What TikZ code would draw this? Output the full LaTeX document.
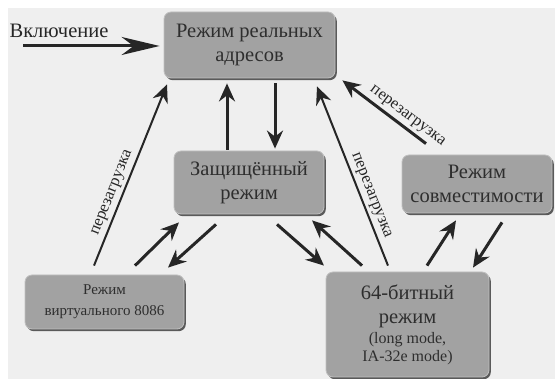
\documentclass[tikz,border=0pt]{standalone}
\usepackage{fontspec}
\setmainfont{Liberation Serif}
\usetikzlibrary{arrows.meta, shadows}
\definecolor{pagegray}{HTML}{EFEFEF}
\definecolor{boxgray}{HTML}{A2A2A2}
\definecolor{rimgray}{HTML}{C0C0C0}
\definecolor{shadegray}{HTML}{4A4A4A}
\definecolor{inkgray}{HTML}{262626}
\definecolor{textgray}{HTML}{2E2E2E}

\begin{document}
\begin{tikzpicture}[
    x=1pt, y=1pt,
    >={Stealth[length=18pt, width=16pt, inset=6pt]},
    mode/.style={draw=rimgray, fill=boxgray, rounded corners=7pt, line width=0.8pt,
                 align=center, text=textgray, inner sep=2pt,
                 drop shadow={shadow xshift=1.8pt, shadow yshift=-2.2pt, fill=shadegray, opacity=0.9}},
    big/.style={font=\rmfamily\fontsize{20.5}{24}\selectfont},
    small/.style={font=\rmfamily\fontsize{15}{21}\selectfont},
    arr/.style={->, line width=3pt, color=inkgray},
    rarr/.style={->, line width=2pt, color=inkgray},
    longarr/.style={-{Stealth[length=38pt, width=18pt, inset=12pt]}, line width=3pt, color=inkgray},
    tag/.style={font=\rmfamily\fontsize{16.5}{18}\selectfont, text=inkgray, sloped, above, inner sep=3pt},
]

% Page
\useasboundingbox (0,0) rectangle (555,379);
\fill[pagegray] (8,0) rectangle (555,371);

% Modes
\node[mode, big, minimum width=171pt, minimum height=66pt] (real) at (249.5,334) {Режим реальных\\адресов};
\node[mode, big, minimum width=150pt, minimum height=63pt] (prot) at (249,196.5) {Защищённый\\режим};
\node[mode, big, minimum width=150pt, minimum height=58pt] (compat) at (477,195) {Режим\\совместимости};
\node[mode, small, minimum width=159pt, minimum height=54pt] (vm) at (104.5,77) {Режим\\виртуального 8086};
\node[mode, big, minimum width=163pt, minimum height=105pt] (long) at (407.5,54.5)
    {64-битный\\режим\\[-4pt]\fontsize{16}{18}\selectfont (long mode,\\[-6pt]\fontsize{16}{18}\selectfont IA-32e mode)};

% Power on
\node[font=\rmfamily\fontsize{20.5}{22}\selectfont, text=inkgray] (on) at (59,348) {Включение};
\coordinate (start) at (23,333);
\draw[longarr] (start) -- ([xshift=-4pt, yshift=-1pt]real.west);

% Reboot arrows
\draw[rarr] ([xshift=-10.5pt, yshift=9pt]vm.north) -- node[tag, pos=0.38] {перезагрузка} ([xshift=-82.5pt, yshift=-6pt]real.south);
\draw[rarr] ([xshift=-19.5pt, yshift=6pt]long.north) -- node[tag, pos=0.37] {перезагрузка} ([xshift=67.5pt, yshift=-8pt]real.south);
\draw[arr] ([xshift=-51pt, yshift=11pt]compat.north) -- node[tag, pos=0.3] {перезагрузка} ([xshift=7pt, yshift=-2pt]real.south east);

% Real <-> protected
\draw[arr] ([xshift=-22pt, yshift=1pt]prot.north) -- ([xshift=-22.5pt, yshift=-5pt]real.south);
\draw[arr] ([xshift=25.5pt, yshift=-5pt]real.south) -- ([xshift=26pt, yshift=2pt]prot.north);

% Protected <-> virtual 8086
\draw[arr] ([xshift=30.5pt, yshift=9pt]vm.north) -- ([xshift=-70pt, yshift=-8pt]prot.south);
\draw[arr] ([xshift=-33pt, yshift=-10pt]prot.south) -- ([xshift=63.5pt, yshift=7pt]vm.north);

% Protected <-> 64-bit
\draw[arr] ([xshift=28pt, yshift=-10pt]prot.south) -- ([xshift=-83.5pt, yshift=6pt]long.north);
\draw[arr] ([xshift=-45.5pt, yshift=6pt]long.north) -- ([xshift=63pt, yshift=-6pt]prot.south);

% 64-bit <-> compatibility
\draw[arr] ([xshift=19.5pt, yshift=6pt]long.north) -- ([xshift=-21pt, yshift=-7pt]compat.south);
\draw[arr] ([xshift=25pt, yshift=-9pt]compat.south) -- ([xshift=65.5pt, yshift=4pt]long.north);

\end{tikzpicture}
\end{document}
